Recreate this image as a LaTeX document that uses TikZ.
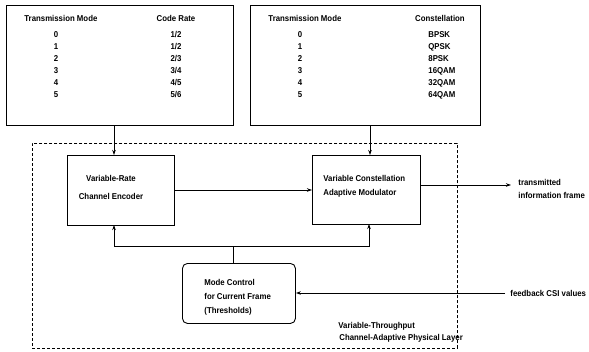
\documentclass[tikz,border=0pt]{standalone}
\usepackage{fontspec}
\setmainfont{Liberation Sans Bold}[FakeStretch=0.92]
\usetikzlibrary{arrows.meta,calc}
\begin{document}
\begin{tikzpicture}[x=1pt,y=-1pt,
  font=\fontsize{8.5}{10}\selectfont,
  line width=0.8pt,
  box/.style={draw, line width=0.9pt, inner sep=0pt, anchor=north west},
  txt/.style={inner sep=0pt, anchor=base},
  txtl/.style={inner sep=0pt, anchor=base west},
  arr/.style={-{Stealth[length=5pt,width=3.5pt]}},
  frame/.style={draw, dashed, dash pattern=on 3pt off 2pt, line width=0.8pt}]
\useasboundingbox (0,0) rectangle (589,351);

% dashed physical layer frame
\node[frame, inner sep=0pt, anchor=north west, minimum width=425pt, minimum height=205pt] (layer) at (32,143) {};

% tables
\node[box, minimum width=227pt, minimum height=120pt] (tabL) at (6,5) {};
\node[box, minimum width=230pt, minimum height=120pt] (tabR) at (250,5) {};

% left table content
\node[txtl] (tlh1) at (24,21) {Transmission Mode};
\node[txt] (tlh2) at (176,21) {Code Rate};
\foreach \m/\r [count=\i from 0] in {0/1\slash 2,1/1\slash 2,2/2\slash 3,3/3\slash 4,4/4\slash 5,5/5\slash 6}{
  \node[txt] (tlm\i) at (56,{37+12*\i}) {\m};
  \node[txt] (tlr\i) at (176,{37+12*\i}) {\r};
}
% right table content
\node[txtl] (trh1) at (268,21) {Transmission Mode};
\node[txt] (trh2) at (440,21) {Constellation};
\foreach \m/\c [count=\i from 0] in {0/BPSK,1/QPSK,2/8PSK,3/16QAM,4/32QAM,5/64QAM}{
  \node[txt] (trm\i) at (300,{37+12*\i}) {\m};
  \node[txtl] (trc\i) at (428,{37+12*\i}) {\c};
}

% encoder and modulator
\node[box, minimum width=107pt, minimum height=70pt] (enc) at (67,155) {};
\node[txt] (enct1) at (111,181) {Variable-Rate};
\node[txt] (enct2) at (111,199) {Channel Encoder};

\node[box, minimum width=108pt, minimum height=69pt] (mod) at (312,155) {};
\node[txtl] (modt1) at (323,181) {Variable Constellation};
\node[txtl] (modt2) at (323,195) {Adaptive Modulator};

% mode control
\node[box, rounded corners=5pt, minimum width=113pt, minimum height=60pt] (mc) at (182,263) {};
\node[txtl] (mct1) at (204,285) {Mode Control};
\node[txtl] (mct2) at (204,299) {for Current Frame};
\node[txtl] (mct3) at (204,313) {(Thresholds)};

% outside labels
\node[txtl] (out1) at (518,185) {transmitted};
\node[txtl] (out2) at (518,198) {information frame};
\node[inner sep=0pt, anchor=west] (fb) at (510,293) {feedback CSI values};
\node[txtl] (lay1) at (338,328) {Variable-Throughput};
\node[txtl] (lay2) at (339,340) {Channel-Adaptive Physical Layer};

% coordinates
\coordinate (encin) at (114,155);
\coordinate (modin) at (370,155);
\coordinate (junc) at (233,246);
\coordinate (encfb) at (114,225);
\coordinate (modfb) at (369,224);
\coordinate (outend) at (511,185);
\coordinate (fbstart) at (505,293);

% connectors
\draw[arr] (tabL.south -| encin) -- (encin);
\draw[arr] (tabR.south -| modin) -- (modin);
\draw[arr] (enc.east |- 0,190) -- (mod.west |- 0,190);
\draw[arr] (mod.east |- outend) -- (outend);
\draw (mc.north -| junc) -- (junc);
\draw[arr] (junc) -- (junc -| encfb) -- (encfb);
\draw[arr] (junc) -- (junc -| modfb) -- (modfb);
\draw[arr] (fbstart) -- (mc.east |- fbstart);
\end{tikzpicture}
\end{document}
